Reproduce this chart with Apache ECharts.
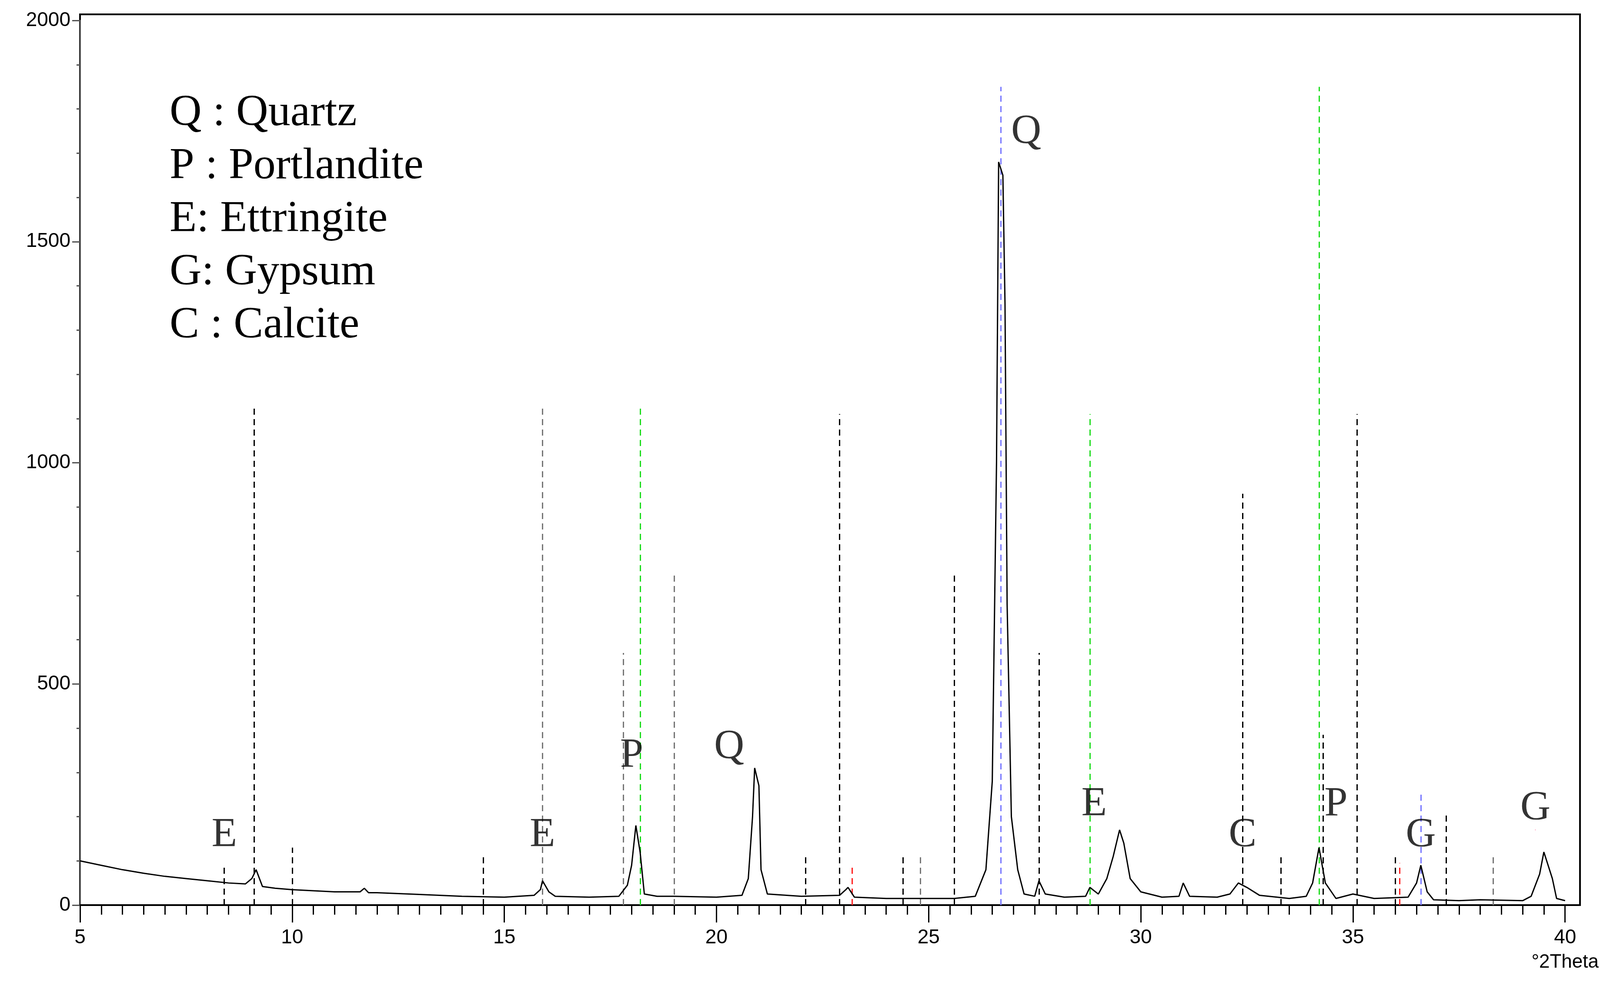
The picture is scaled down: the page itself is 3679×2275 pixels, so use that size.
<!DOCTYPE html>
<html lang="en">
<head>
  <meta charset="UTF-8" />
  <title>XRD pattern</title>
  <script src="https://cdn.jsdelivr.net/npm/echarts@6.0.0/dist/echarts.min.js"></script>
  <style>
    body { margin: 0; background: #fff; }
    #chart { width: 3679px; height: 2275px; }
  </style>
</head>
<body>
  <div id="chart"></div>
  <script>
    // measured pattern, [2theta, counts]
    const pattern = [
      [5,100],[5.5,90],[6,80],[6.5,72],[7,65],[7.5,60],[8,55],[8.5,50],[8.9,48],[9.05,60],[9.15,80],[9.3,42],[9.6,38],
      [10,35],[11,30],[11.6,30],[11.7,38],[11.8,28],[12,28],[13,24],[14,20],[15,18],[15.7,22],[15.85,35],[15.9,55],[16.05,30],[16.2,20],
      [17,18],[17.7,20],[17.9,45],[18.0,90],[18.1,180],[18.2,120],[18.3,25],[18.6,20],[19,20],[20,18],[20.6,22],
      [20.75,60],[20.85,200],[20.9,310],[21.0,270],[21.05,80],[21.2,25],[22,20],[22.9,22],[23.05,35],[23.1,40],[23.25,18],
      [24,15],[25,15],[25.6,15],[26.1,20],[26.35,80],[26.5,280],[26.6,1000],[26.65,1680],[26.75,1650],[26.8,1360],[26.85,680],
      [26.95,200],[27.1,80],[27.25,25],[27.5,20],[27.6,55],[27.75,25],[28.2,18],[28.7,20],[28.8,40],[29.0,25],[29.2,60],
      [29.35,110],[29.5,170],[29.6,140],[29.75,60],[30,30],[30.5,18],[30.9,20],[31.0,50],[31.15,20],[31.8,18],[32.1,25],
      [32.3,50],[32.5,40],[32.8,22],[33.5,15],[33.9,20],[34.05,50],[34.2,130],[34.35,50],[34.6,15],[35,25],[35.5,15],
      [36.3,18],[36.5,50],[36.6,90],[36.75,30],[36.9,12],[37.5,10],[38,12],[39,10],[39.2,20],[39.4,70],[39.5,120],
      [39.7,60],[39.8,15],[40,10]
    ];

    // reference line markers: [2theta, height]
    const blackRefs = [[9.1,1130],[10,130],[14.5,110],[22.1,110],[22.9,1110],[24.4,110],[25.6,750],[27.6,570],
                       [32.4,930],[33.3,115],[34.3,385],[35.1,1110],[36.0,110],[37.2,205],[8.4,90]];
    const grayRefs = [[15.9,1130],[17.8,570],[19.0,750],[24.8,110],[38.3,115]];
    const greenRefs = [[18.2,1130],[28.8,1110],[34.2,1850]];
    const blueRefs = [[26.7,1850],[36.6,255]];
    const redRefs = [[23.2,90],[36.1,95]];

    // phase labels: [2theta, counts, text]
    const peakLabels = [[8.4,110,'E'],[15.9,110,'E'],[18.0,290,'P'],[20.3,310,'Q'],[27.3,1700,'Q'],
                        [28.9,180,'E'],[32.4,110,'C'],[34.6,180,'P'],[36.6,110,'G'],[39.3,170,'G']];

    const legendLines = ['Q : Quartz', 'P : Portlandite', 'E: Ettringite', 'G: Gypsum', 'C : Calcite'];

    function refLines(refs, color, name) {
      return {
        name: name, type: 'line', data: [], silent: true,
        markLine: {
          symbol: 'none', silent: true, label: { show: false },
          lineStyle: { color: color, type: [14, 10], width: 3 },
          data: refs.map(r => [{ coord: [r[0], 0] }, { coord: [r[0], r[1]] }])
        }
      };
    }

    const chart = echarts.init(document.getElementById('chart'));
    chart.setOption({
      animation: false,
      grid: { left: 184, right: 46, top: 47, bottom: 193 },
      xAxis: {
        type: 'value', min: 5, max: 40, interval: 5,
        name: '°2Theta', nameLocation: 'end', nameGap: 0,
        nameTextStyle: { fontFamily: 'Liberation Sans', fontSize: 44, color: '#000', align: 'center', verticalAlign: 'top', padding: [110, 0, 0, 0] },
        axisLine: { lineStyle: { color: '#000', width: 4 } },
        axisTick: { inside: false, length: 40, lineStyle: { color: '#000', width: 3 } },
        minorTick: { show: true, splitNumber: 10, length: 22, lineStyle: { color: '#000', width: 3 } },
        axisLabel: { fontFamily: 'Liberation Sans', fontSize: 46, color: '#000', margin: 52 },
        splitLine: { show: false }
      },
      yAxis: {
        type: 'value', min: 0, max: 2000, interval: 500,
        axisLine: { show: true, lineStyle: { color: '#555', width: 3 } },
        axisTick: { length: 18, lineStyle: { color: '#555', width: 3 } },
        minorTick: { show: true, splitNumber: 5, length: 8, lineStyle: { color: '#555', width: 3 } },
        axisLabel: { fontFamily: 'Liberation Sans', fontSize: 46, color: '#000', margin: 22, formatter: v => String(v) },
        splitLine: { show: false }
      },
      series: [
        refLines(grayRefs, '#777', 'gray'),
        refLines(blackRefs, '#000', 'black'),
        refLines(greenRefs, '#22dd22', 'green'),
        refLines(blueRefs, '#7777ff', 'blue'),
        refLines(redRefs, '#ff2222', 'red'),
        {
          name: 'pattern', type: 'line', data: pattern, showSymbol: false, z: 5,
          lineStyle: { color: '#000', width: 3 }
        },
        {
          name: 'labels', type: 'scatter', symbolSize: 0, z: 6,
          data: peakLabels.map(p => ({ value: [p[0], p[1]], name: p[2] })),
          label: {
            show: true, position: 'top', distance: 0, formatter: d => d.name,
            fontFamily: 'Liberation Serif', fontSize: 96, color: '#000'
          }
        }
      ],
      graphic: [
        { type: 'rect', shape: { x: 184, y: 33, width: 3449, height: 2049 },
          style: { fill: 'none', stroke: '#000', lineWidth: 4 }, silent: true },
        { type: 'text', left: 390, top: 200,
          style: { text: legendLines.join('\n'), fontFamily: 'Liberation Serif', fontSize: 102,
                   lineHeight: 122, fill: '#000' } }
      ]
    });
  </script>
</body>
</html>
